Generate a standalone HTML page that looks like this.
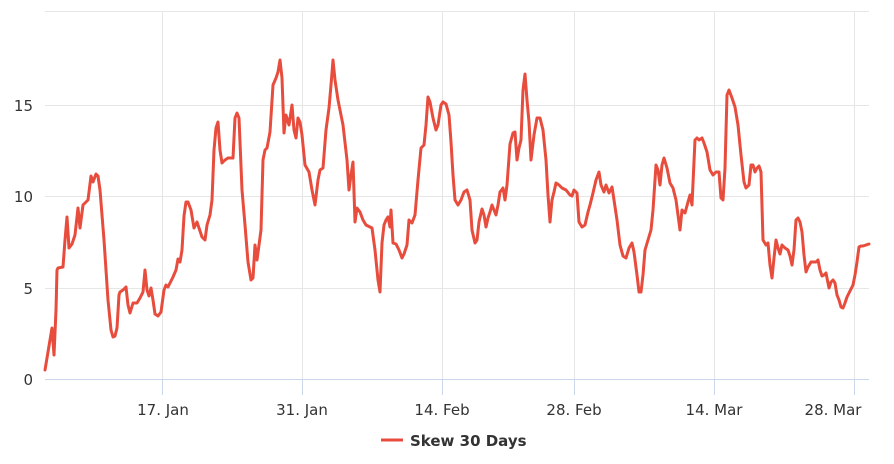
<!DOCTYPE html>
<html><head><meta charset="utf-8"><style>body{margin:0;background:#fff}svg{display:block;font-family:"DejaVu Sans","Liberation Sans",sans-serif}</style></head><body>
<svg width="894" height="464" viewBox="0 0 894 464">
<g stroke="#e6e6e6" stroke-width="1">
<line x1="45" y1="11.5" x2="869" y2="11.5"/><line x1="45" y1="105.5" x2="869" y2="105.5"/><line x1="45" y1="196.5" x2="869" y2="196.5"/><line x1="45" y1="288.5" x2="869" y2="288.5"/>
<line x1="162.5" y1="11" x2="162.5" y2="379"/><line x1="302.5" y1="11" x2="302.5" y2="379"/><line x1="442.5" y1="11" x2="442.5" y2="379"/><line x1="574.5" y1="11" x2="574.5" y2="379"/><line x1="714.5" y1="11" x2="714.5" y2="379"/><line x1="854.5" y1="11" x2="854.5" y2="379"/>
</g>
<line x1="45" y1="379.5" x2="869" y2="379.5" stroke="#ccd6eb"/>
<g stroke="#ccd6eb"><line x1="162.5" y1="379" x2="162.5" y2="395"/><line x1="302.5" y1="379" x2="302.5" y2="395"/><line x1="442.5" y1="379" x2="442.5" y2="395"/><line x1="574.5" y1="379" x2="574.5" y2="395"/><line x1="714.5" y1="379" x2="714.5" y2="395"/><line x1="854.5" y1="379" x2="854.5" y2="395"/></g>
<g fill="#333" font-size="15" text-anchor="end"><text x="33" y="111">15</text><text x="33" y="202">10</text><text x="33" y="294">5</text><text x="33" y="385">0</text></g>
<g fill="#333" font-size="15" text-anchor="middle"><text x="163" y="415">17. Jan</text><text x="302" y="415">31. Jan</text><text x="442" y="415">14. Feb</text><text x="574" y="415">28. Feb</text><text x="714" y="415">14. Mar</text><text x="833" y="415">28. Mar</text></g>
<polyline fill="none" stroke="#e74c3c" stroke-width="3" stroke-linejoin="round" stroke-linecap="round" points="45,370 50,340 52,328 54,355 56,310 57,270 58,268 63,267 65,240 67,217 69,248 72,244 75,235 78,208 80,228 83,205 86,202 88,200 91,176 93,182 96,174 98,176 100,190 104,240 108,300 111,330 113,337 115,336 117,328 119,295 120,292 123,290 126,287 128,305 130,313 133,303 137,303 140,298 143,292 145,270 147,290 149,296 151,288 153,300 155,314 158,316 161,312 164,290 166,285 168,287 170,283 173,277 176,270 178,259 180,262 182,250 184,216 186,202 188,202 191,210 194,228 197,222 199,228 202,237 205,240 207,225 210,215 212,200 214,150 216,128 218,122 220,150 222,163 225,160 228,158 233,158 235,118 237,113 239,118 242,190 245,225 248,262 251,280 253,278 255,245 257,260 259,245 261,230 263,160 265,150 267,148 270,132 273,85 276,78 278,72 280,60 282,78 284,133 286,115 289,125 292,105 294,130 296,138 298,118 300,122 302,135 305,165 309,172 312,190 315,205 318,180 320,170 323,168 326,130 329,108 331,85 333,60 335,80 338,100 341,115 343,125 347,160 349,190 351,175 353,162 355,222 357,208 360,212 363,220 366,225 372,228 375,250 378,280 380,292 382,243 384,225 386,220 388,217 390,227 391,210 393,243 396,244 399,250 402,258 404,254 407,245 409,220 412,223 415,215 418,180 421,148 424,145 426,125 428,97 430,102 433,118 436,130 438,125 441,105 443,102 446,104 449,115 451,142 453,175 455,200 458,205 461,200 464,192 467,190 470,200 472,230 475,243 477,240 479,222 482,209 484,215 486,227 488,218 490,212 492,205 494,210 496,215 498,205 500,192 503,188 505,200 507,185 510,144 513,133 515,132 517,160 519,148 521,140 523,90 525,74 527,100 529,122 531,160 534,135 537,118 540,118 543,130 546,160 548,195 550,222 552,200 554,192 556,183 559,185 562,188 566,190 570,195 572,196 574,190 577,193 579,222 582,227 585,225 588,212 590,205 593,193 596,180 599,172 601,185 604,192 606,185 609,193 612,187 614,200 617,220 620,245 623,256 626,258 629,248 632,243 634,252 637,275 639,292 641,292 643,275 645,250 648,240 651,230 653,210 656,165 658,170 660,185 662,165 664,158 667,168 670,183 673,188 676,200 678,215 680,230 682,210 685,213 688,202 690,195 692,205 695,140 697,138 699,140 702,138 704,143 707,152 710,170 713,175 716,172 719,172 721,198 723,200 725,168 727,95 729,90 732,98 735,107 738,125 741,155 744,182 746,188 749,185 751,165 753,165 755,172 757,168 759,166 761,172 763,240 766,245 768,243 770,265 772,278 774,258 776,240 778,248 780,254 782,245 785,248 788,250 790,256 792,265 794,250 796,220 798,218 800,222 802,232 804,255 806,272 808,267 811,262 813,262 816,262 818,260 820,270 822,276 824,275 826,273 829,288 831,282 833,280 835,283 837,295 839,300 841,307 843,308 845,303 847,297 850,291 853,285 855,275 857,262 859,247 861,246 863,246 866,245 869,244"/>
<line x1="381" y1="440" x2="403" y2="440" stroke="#e74c3c" stroke-width="3"/>
<text x="410" y="446" font-size="15" font-weight="bold" fill="#333">Skew 30 Days</text>
</svg>
</body></html>
